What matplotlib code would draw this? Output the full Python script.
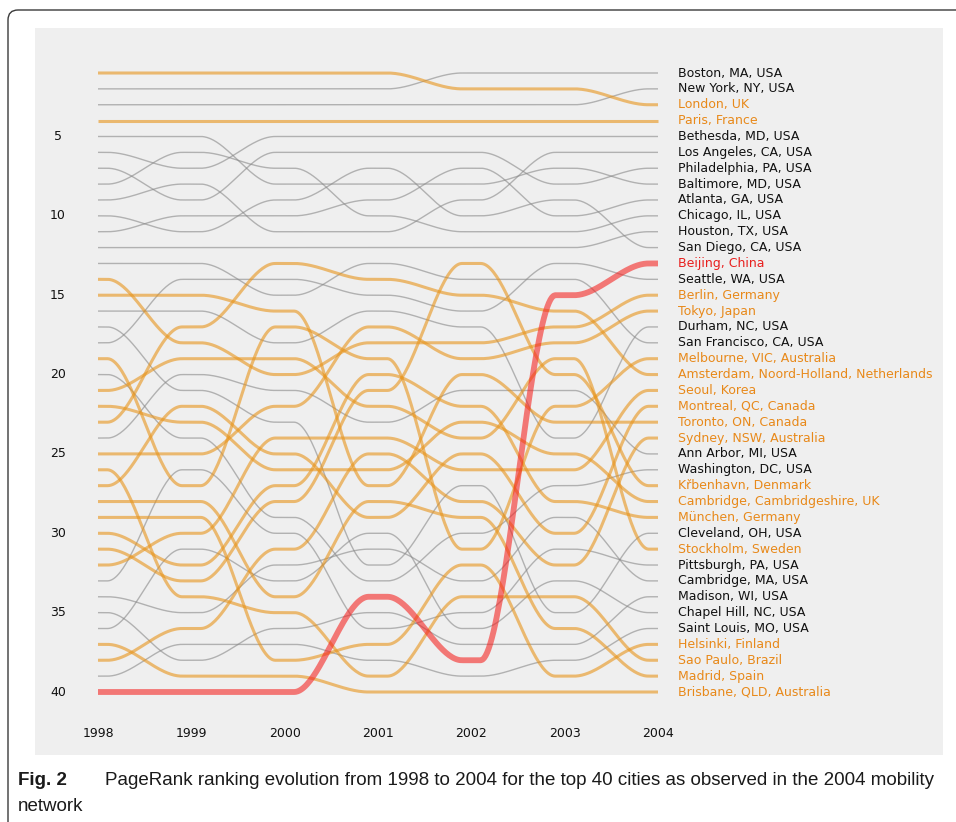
import matplotlib
matplotlib.use("Agg")
import matplotlib.pyplot as plt
from matplotlib.patches import FancyBboxPatch
from matplotlib.transforms import IdentityTransform
import numpy as np

years = [1998, 1999, 2000, 2001, 2002, 2003, 2004]

cities = [
    "Boston, MA, USA", "New York, NY, USA", "London, UK", "Paris, France",
    "Bethesda, MD, USA", "Los Angeles, CA, USA", "Philadelphia, PA, USA",
    "Baltimore, MD, USA", "Atlanta, GA, USA", "Chicago, IL, USA",
    "Houston, TX, USA", "San Diego, CA, USA", "Beijing, China",
    "Seattle, WA, USA", "Berlin, Germany", "Tokyo, Japan", "Durham, NC, USA",
    "San Francisco, CA, USA", "Melbourne, VIC, Australia",
    "Amsterdam, Noord-Holland, Netherlands", "Seoul, Korea",
    "Montreal, QC, Canada", "Toronto, ON, Canada", "Sydney, NSW, Australia",
    "Ann Arbor, MI, USA", "Washington, DC, USA", "Křbenhavn, Denmark",
    "Cambridge, Cambridgeshire, UK", "München, Germany", "Cleveland, OH, USA",
    "Stockholm, Sweden", "Pittsburgh, PA, USA", "Cambridge, MA, USA",
    "Madison, WI, USA", "Chapel Hill, NC, USA", "Saint Louis, MO, USA",
    "Helsinki, Finland", "Sao Paulo, Brazil", "Madrid, Spain",
    "Brisbane, QLD, Australia",
]

# group: "us" = grey, "intl" = orange, "focus" = red
groups = [
    "us", "us", "intl", "intl", "us", "us", "us", "us", "us", "us", "us", "us",
    "focus", "us", "intl", "intl", "us", "us", "intl", "intl", "intl", "intl",
    "intl", "intl", "us", "us", "intl", "intl", "intl", "us", "intl", "us",
    "us", "us", "us", "us", "intl", "intl", "intl", "intl",
]

# PageRank rank per year (1998 ... 2004)
ranks = [
    [2, 2, 2, 2, 1, 1, 1],
    [3, 3, 3, 3, 3, 3, 2],
    [1, 1, 1, 1, 2, 2, 3],
    [4, 4, 4, 4, 4, 4, 4],
    [6, 7, 5, 5, 5, 5, 5],
    [9, 8, 11, 11, 9, 6, 6],
    [7, 9, 6, 6, 6, 8, 7],
    [5, 5, 8, 8, 8, 7, 8],
    [11, 10, 10, 9, 7, 10, 9],
    [8, 6, 7, 10, 11, 11, 10],
    [12, 12, 12, 12, 12, 12, 11],
    [10, 11, 9, 7, 10, 9, 12],
    [40, 40, 40, 34, 38, 15, 13],
    [18, 14, 14, 15, 16, 13, 14],
    [14, 18, 20, 18, 18, 17, 15],
    [25, 25, 22, 17, 19, 18, 16],
    [16, 16, 18, 16, 17, 24, 17],
    [13, 13, 15, 13, 14, 14, 18],
    [19, 27, 17, 19, 31, 22, 19],
    [23, 17, 13, 14, 15, 16, 20],
    [32, 30, 24, 24, 26, 26, 21],
    [27, 22, 25, 29, 25, 30, 22],
    [15, 15, 16, 27, 20, 23, 23],
    [38, 36, 31, 25, 28, 32, 24],
    [24, 20, 21, 23, 21, 21, 25],
    [20, 24, 29, 33, 30, 27, 26],
    [31, 33, 28, 21, 13, 20, 27],
    [22, 23, 26, 26, 23, 25, 28],
    [30, 32, 27, 20, 22, 28, 29],
    [17, 21, 23, 32, 27, 35, 30],
    [21, 19, 19, 22, 24, 19, 31],
    [33, 26, 30, 36, 35, 31, 32],
    [34, 35, 32, 31, 33, 29, 33],
    [35, 38, 36, 35, 37, 37, 34],
    [36, 31, 33, 30, 36, 33, 35],
    [39, 37, 37, 38, 39, 38, 36],
    [29, 29, 38, 37, 32, 39, 37],
    [26, 34, 35, 39, 34, 34, 38],
    [28, 28, 34, 28, 29, 36, 39],
    [37, 39, 39, 40, 40, 40, 40],
]

y_ticks = [5, 10, 15, 20, 25, 30, 35, 40]

W, H = 956, 822
fig = plt.figure(figsize=(W / 100, H / 100), dpi=100)
fig.patch.set_facecolor("white")

frame = FancyBboxPatch((8, -40), W + 40, H - 10 + 40,
                       boxstyle="round,pad=0,rounding_size=10",
                       transform=IdentityTransform(), facecolor="none",
                       edgecolor="#3a3a3a", linewidth=1.0, zorder=0)
fig.patches.append(frame)

px_l, px_r, px_t, px_b = 35, 943, 28, 755
ax = fig.add_axes([px_l / W, 1 - px_b / H, (px_r - px_l) / W, (px_b - px_t) / H])
ax.set_facecolor("#efefef")
for s in ax.spines.values():
    s.set_visible(False)
ax.set_xticks([])
ax.set_yticks([])

x_step = (658 - 98) / 6.0
r_step = (692 - 73) / 39.0
ax.set_xlim(1998 + (px_l - 98) / x_step, 1998 + (px_r - 98) / x_step)
ax.set_ylim(1 + (px_b - 73) / r_step, 1 + (px_t - 73) / r_step)


def bump(xs, ys, n=60, margin=0.1):
    X, Y = [xs[0]], [ys[0]]
    for i in range(len(xs) - 1):
        t = np.linspace(0, 1, n)[1:]
        s = np.clip((t - margin) / (1 - 2 * margin), 0, 1)
        e = s * s * (3 - 2 * s)
        X.extend(xs[i] + (xs[i + 1] - xs[i]) * t)
        Y.extend(ys[i] + (ys[i + 1] - ys[i]) * e)
    return np.array(X), np.array(Y)


styles = {
    "us": dict(color="#888888", alpha=0.6, lw=1.0, zorder=2),
    "intl": dict(color="#e8941a", alpha=0.6, lw=2.2, zorder=3),
    "focus": dict(color="#f5201e", alpha=0.58, lw=4.2, zorder=4),
}
label_colors = {"us": "#111111", "intl": "#e8891a", "focus": "#e8201e"}

for name, g, r in zip(cities, groups, ranks):
    X, Y = bump(years, r)
    st = styles[g]
    ax.plot(X, Y, color=st["color"], alpha=st["alpha"], lw=st["lw"],
            zorder=st["zorder"], solid_capstyle="butt")
    ax.text(years[-1] + 20 / x_step, r[-1], name, color=label_colors[g],
            fontsize=9, va="center", ha="left", zorder=5)

for t in y_ticks:
    ax.text(1998 + (58 - 98) / x_step, t, str(t), fontsize=9, ha="center",
            va="center", color="#111111")
for yv in years:
    ax.text(yv, 1 + (733 - 73) / r_step, str(yv), fontsize=9, ha="center",
            va="center", color="#111111")

cap_font = "Liberation Sans"
fig.text(18 / W, 1 - 780 / H, "Fig. 2", fontsize=13.5, fontweight="bold",
         family=cap_font, va="center", ha="left", color="#1a1a1a")
fig.text(105 / W, 1 - 780 / H,
         "PageRank ranking evolution from 1998 to 2004 for the top 40 cities as observed in the 2004 mobility",
         fontsize=13.5, family=cap_font, va="center", ha="left", color="#1a1a1a")
fig.text(18 / W, 1 - 806 / H, "network", fontsize=13.5, family=cap_font,
         va="center", ha="left", color="#1a1a1a")

fig.savefig("out.png", dpi=100, facecolor="white")
